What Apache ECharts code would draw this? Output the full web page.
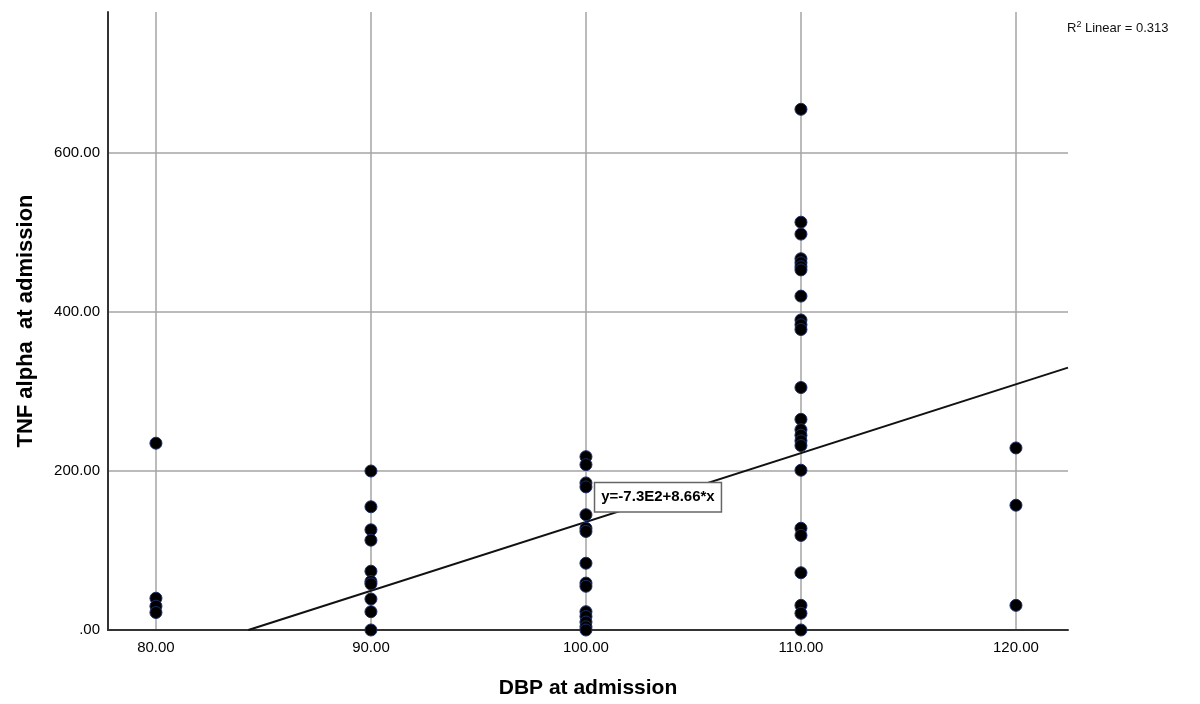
<!DOCTYPE html>
<html>
<head>
<meta charset="utf-8">
<script src="https://cdn.jsdelivr.net/npm/echarts@6/dist/echarts.min.js"></script>
<style>html,body{margin:0;padding:0;background:#fff}#c{width:1200px;height:704px}</style>
</head>
<body>
<div id="c"></div>
<script>
// ---- data ----
const xTicks = [80, 90, 100, 110, 120];
const yTicks = [0, 200, 400, 600];
const tnfAt80 = [235, 40, 30, 22];
const tnfAt90 = [200, 155, 126, 113, 74, 61, 58, 39, 23, 0];
const tnfAt100 = [218, 208, 185, 180, 145, 128, 124, 84, 59, 55, 23, 17, 10, 4, 0];
const tnfAt110 = [655, 513, 498, 467, 462, 457, 453, 420, 390, 384, 378, 305, 265, 252, 245, 238, 232, 201, 128, 119, 72, 31, 21, 0];
const tnfAt120 = [229, 157, 31];
const fitX = [84.3, 122.42];
const fitY = [0, 330.1];
const fitLabel = 'y=-7.3E2+8.66*x';
const r2Text = '0.313';

const groups = [[80, tnfAt80], [90, tnfAt90], [100, tnfAt100], [110, tnfAt110], [120, tnfAt120]];
const points = [];
groups.forEach(([x, arr]) => arr.forEach(v => points.push([x, v])));
const fitData = fitX.map((x, i) => [x, fitY[i]]);

const chart = echarts.init(document.getElementById('c'));
const labelFont = {fontFamily: 'Liberation Sans, Arial, sans-serif', fontSize: 15, color: '#000'};
chart.setOption({
  animation: false,
  backgroundColor: '#fff',
  grid: {left: 108, right: 132, top: 12, bottom: 74, containLabel: false},
  xAxis: {
    type: 'value', min: 77.77, max: 122.42,
    name: 'DBP at admission', nameLocation: 'middle', nameGap: 48,
    nameTextStyle: {fontFamily: 'Liberation Sans, Arial, sans-serif', fontSize: 21, fontWeight: 'bold', color: '#000'},
    axisLine: {show: true, onZero: false, lineStyle: {color: '#333', width: 2}},
    axisTick: {show: false, customValues: xTicks},
    axisLabel: Object.assign({customValues: xTicks, margin: 10, formatter: v => v.toFixed(2)}, labelFont),
    splitLine: {show: true, lineStyle: {color: '#a4a4a4', width: 1.5}}
  },
  yAxis: {
    type: 'value', min: 0, max: 777.4,
    name: 'TNF alpha  at admission', nameLocation: 'middle', nameGap: 71, nameRotate: 90,
    nameTextStyle: {fontFamily: 'Liberation Sans, Arial, sans-serif', fontSize: 22, fontWeight: 'bold', color: '#000'},
    axisLine: {show: true, onZero: false, lineStyle: {color: '#333', width: 2}},
    axisTick: {show: false, customValues: yTicks},
    axisLabel: Object.assign({customValues: yTicks, margin: 8, formatter: v => v === 0 ? '.00' : v.toFixed(2)}, labelFont),
    splitLine: {show: true, lineStyle: {color: '#a4a4a4', width: 1.5}}
  },
  series: [
    {
      type: 'line', data: fitData, symbol: 'none', silent: true,
      lineStyle: {color: '#111', width: 2}, z: 3,
      markPoint: {
        symbol: 'rect', symbolSize: 0,
        data: [{coord: [103.35, 167]}],
        label: {
          show: true, position: 'inside', formatter: fitLabel,
          fontFamily: 'Liberation Sans, Arial, sans-serif', fontSize: 15, fontWeight: 'bold', color: '#000',
          backgroundColor: '#fff', borderColor: '#666', borderWidth: 1.5, padding: [7, 6, 6, 6]
        }
      }
    },
    {
      type: 'scatter', data: points, symbol: 'circle', symbolSize: 12, z: 4,
      itemStyle: {color: '#000', borderColor: '#1c2d66', borderWidth: 1, opacity: 1}
    }
  ],
  graphic: [{
    type: 'text', left: 1067, top: 20,
    style: {
      text: '{r|R}{s|2}{r| Linear = ' + r2Text + '}',
      rich: {
        r: {fontFamily: 'Liberation Sans, Arial, sans-serif', fontSize: 13, fill: '#111', verticalAlign: 'bottom'},
        s: {fontFamily: 'Liberation Sans, Arial, sans-serif', fontSize: 9, fill: '#111', verticalAlign: 'top', padding: [0, 0, 6, 0]}
      }
    }
  }]
});
</script>
</body>
</html>
